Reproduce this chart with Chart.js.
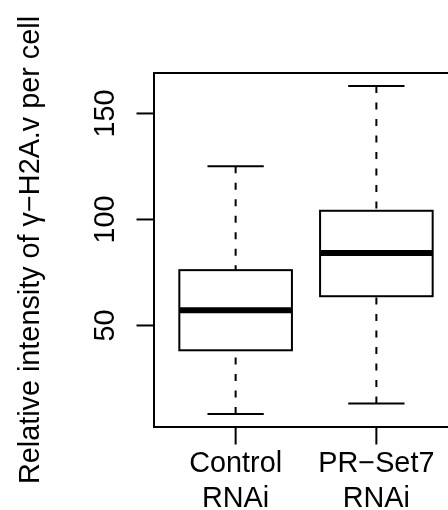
<!DOCTYPE html>
<html>
<head>
<meta charset="utf-8">
<script src="https://cdn.jsdelivr.net/npm/chart.js@4.4.1/dist/chart.umd.min.js"></script>
<style>
  html, body { margin: 0; padding: 0; background: #fff; overflow: hidden; }
  #wrap { width: 448px; height: 510px; overflow: hidden; }
  canvas { display: block; }
</style>
</head>
<body>
<div id="wrap"><canvas id="boxChart" width="470" height="510"></canvas></div>
<script>
const groupLabels = [["Control", "RNAi"], ["PR−Set7", "RNAi"]];
const groupPositions = [1, 2];
const whiskerLow = [8.3, 13.2];
const quartileLow = [38.3, 63.8];
const medians = [57.2, 84.2];
const quartileHigh = [76.1, 104.1];
const whiskerHigh = [125.1, 162.9];
const yTickValues = [50, 100, 150];
const yTitle = "Relative intensity of γ−H2A.v per cell";

const FONT = '28.8px "Liberation Sans", Arial, Helvetica, sans-serif';
const TICK_LEN = 17.5;

// base-graphics style limits: 4% slack on each side
const yLo = Math.min(...whiskerLow);
const yHi = Math.max(...whiskerHigh);
const ySlack = (yHi - yLo) * 0.04;
const xSlack = (groupPositions.length) * 0.04;

function line(ctx, x1, y1, x2, y2) {
  ctx.beginPath();
  ctx.moveTo(x1, y1);
  ctx.lineTo(x2, y2);
  ctx.stroke();
}

const boxplotPlugin = {
  id: "boxplot",
  afterDraw(chart) {
    const { ctx, chartArea: area, scales } = chart;
    const x = scales.x;
    const y = scales.y;
    ctx.save();
    ctx.strokeStyle = "#000";
    ctx.fillStyle = "#000";
    ctx.lineCap = "butt";

    groupPositions.forEach((pos, i) => {
      const cx = x.getPixelForValue(pos);
      const left = x.getPixelForValue(pos - 0.4);
      const right = x.getPixelForValue(pos + 0.4);
      const capL = x.getPixelForValue(pos - 0.2);
      const capR = x.getPixelForValue(pos + 0.2);
      const yMin = y.getPixelForValue(whiskerLow[i]);
      const yQ1 = y.getPixelForValue(quartileLow[i]);
      const yMed = y.getPixelForValue(medians[i]);
      const yQ3 = y.getPixelForValue(quartileHigh[i]);
      const yMax = y.getPixelForValue(whiskerHigh[i]);

      // whiskers, dashed from the caps toward the box
      ctx.lineWidth = 2;
      ctx.setLineDash([7, 9.5]);
      line(ctx, cx, yMin, cx, yQ1);
      line(ctx, cx, yMax, cx, yQ3);
      ctx.setLineDash([]);
      line(ctx, capL, yMin, capR, yMin);
      line(ctx, capL, yMax, capR, yMax);

      // box
      ctx.fillStyle = "#fff";
      ctx.fillRect(left, yQ3, right - left, yQ1 - yQ3);
      ctx.strokeRect(left, yQ3, right - left, yQ1 - yQ3);

      // median
      ctx.lineWidth = 6;
      line(ctx, left, yMed, right, yMed);
    });

    // frame
    ctx.lineWidth = 2;
    ctx.strokeRect(area.left, area.top, area.right - area.left, area.bottom - area.top);

    // y axis ticks and rotated labels
    ctx.fillStyle = "#000";
    ctx.font = FONT;
    yTickValues.forEach((v) => {
      const py = y.getPixelForValue(v);
      line(ctx, area.left - TICK_LEN, py, area.left, py);
      ctx.save();
      ctx.translate(113.5, py);
      ctx.rotate(-Math.PI / 2);
      ctx.textAlign = "center";
      ctx.textBaseline = "alphabetic";
      ctx.fillText(String(v), 0, 0);
      ctx.restore();
    });

    // x axis ticks and two-line group labels
    groupPositions.forEach((pos, i) => {
      const px = x.getPixelForValue(pos);
      line(ctx, px, area.bottom, px, area.bottom + TICK_LEN);
      ctx.textAlign = "center";
      ctx.textBaseline = "alphabetic";
      groupLabels[i].forEach((txt, k) => {
        ctx.fillText(txt, px, 472 + k * 35);
      });
    });

    // y axis title
    ctx.save();
    ctx.translate(38.5, (area.top + area.bottom) / 2);
    ctx.rotate(-Math.PI / 2);
    ctx.textAlign = "center";
    ctx.textBaseline = "alphabetic";
    ctx.fillText(yTitle, 0, 0);
    ctx.restore();

    ctx.restore();
  },
};

new Chart(document.getElementById("boxChart"), {
  type: "scatter",
  data: { datasets: [] },
  options: {
    responsive: false,
    animation: false,
    layout: { padding: { left: 154, top: 73, right: 12, bottom: 83 } },
    plugins: { legend: { display: false }, tooltip: { enabled: false } },
    scales: {
      x: { type: "linear", display: false, min: 0.5 - xSlack, max: groupPositions.length + 0.5 + xSlack },
      y: { type: "linear", display: false, min: yLo - ySlack, max: yHi + ySlack },
    },
  },
  plugins: [boxplotPlugin],
});
</script>
</body>
</html>
